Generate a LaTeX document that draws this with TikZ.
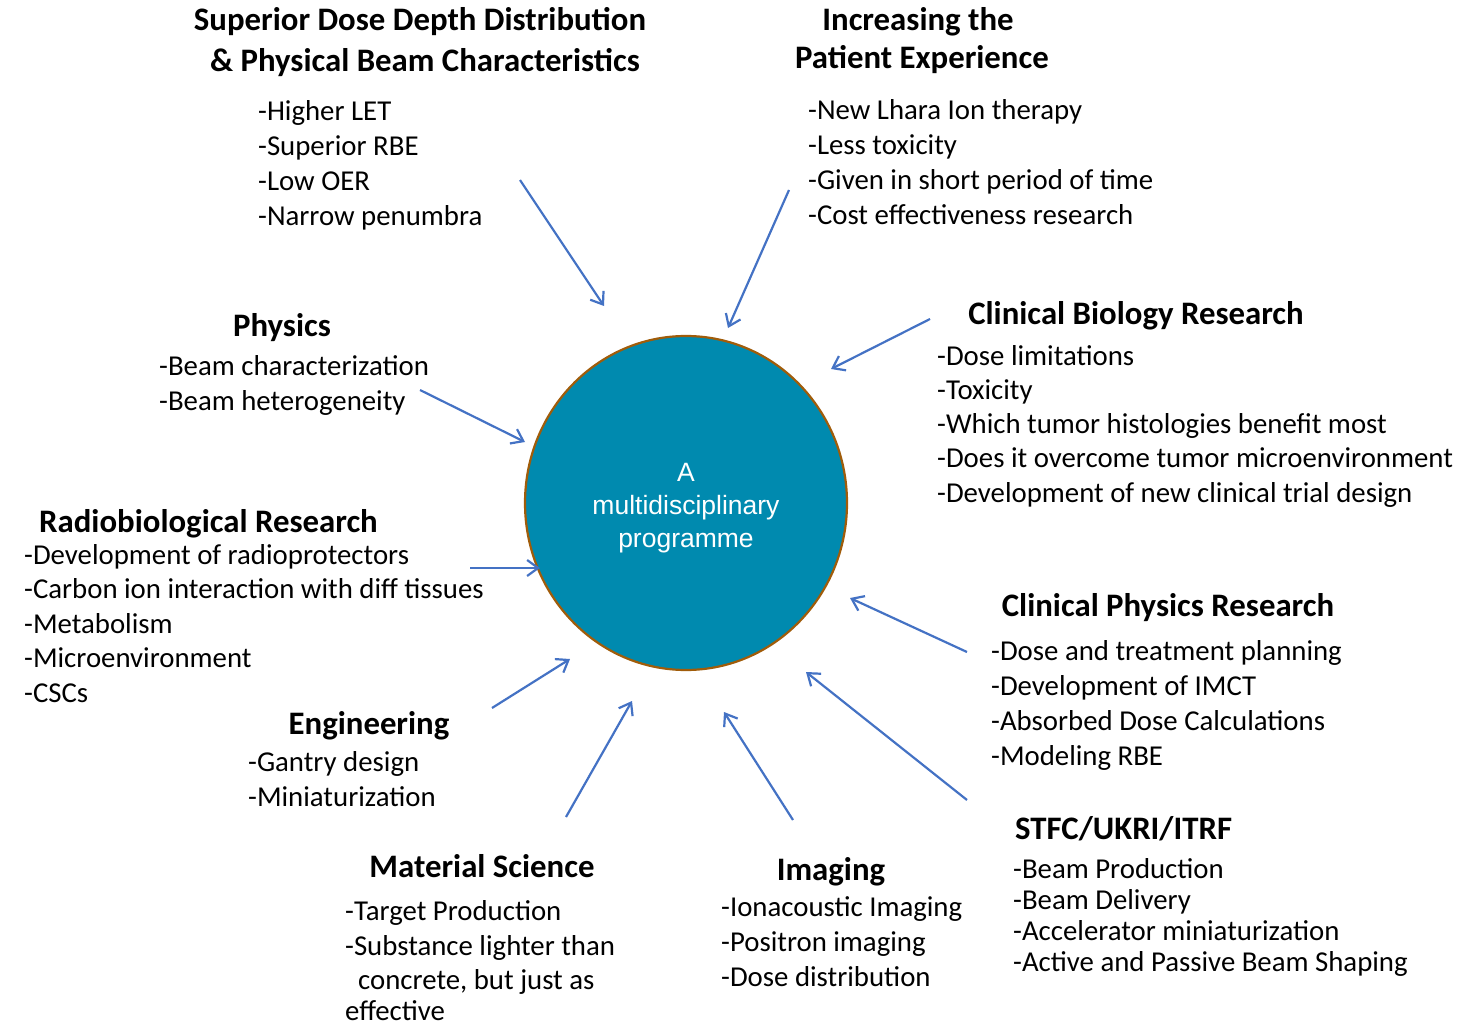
\documentclass[tikz,border=0pt]{standalone}
\usepackage{fontspec}
\setmainfont{Carlito}
\newfontfamily\arialfont{Liberation Sans}
\usetikzlibrary{arrows.meta,shapes.geometric}
\definecolor{progfill}{RGB}{0,138,175}
\definecolor{progedge}{RGB}{160,92,10}
\definecolor{feedblue}{RGB}{68,114,196}

\begin{document}
\begin{tikzpicture}[x=1pt,y=-1pt,
    head/.style={font=\bfseries\fontsize{32.8}{40}\selectfont, anchor=base, inner sep=0pt},
    item/.style={font=\fontsize{28.8}{35}\selectfont, anchor=base west, inner sep=0pt},
    feed/.style={draw=feedblue, line width=2.2pt, -{Straight Barb[length=11pt,width=16pt]}},
    prog/.style={ellipse, fill=progfill, draw=progedge, line width=2.2pt,
        minimum width=322pt, minimum height=334pt, inner sep=0pt},
    progtext/.style={align=center, text=white, inner sep=0pt,
        font=\arialfont\fontsize{26.5}{33}\selectfont}]

    \useasboundingbox (0,0) rectangle (1481,1025);

    % Central programme circle
    \node[prog] (prog) at (686,503) {};
    \node[progtext] (progtext) at (686,508) {A\\multidisciplinary\\programme};

    % Dose depth / beam characteristics
    \node[head] (dose1) at (420,31) {Superior Dose Depth Distribution};
    \node[head] (dose2) at (425,71) {\& Physical Beam Characteristics};
    \foreach \t [count=\i from 0] in {-Higher LET, -Superior RBE, -Low OER, -Narrow penumbra}
        \node[item] (dose-\i) at (258,120+35*\i) {\t};

    % Patient experience
    \node[head] (pat1) at (918,31) {Increasing the};
    \node[head] (pat2) at (922,69) {Patient Experience};
    \foreach \t [count=\i from 0] in {-New Lhara Ion therapy, -Less toxicity, -Given in short period of time, -Cost effectiveness research}
        \node[item] (pat-\i) at (808,119+35*\i) {\t};

    % Clinical biology
    \node[head] (cbio) at (1136,324) {Clinical Biology Research};
    \foreach \t [count=\i from 0] in {-Dose limitations, -Toxicity, -Which tumor histologies benefit most, -Does it overcome tumor microenvironment, -Development of new clinical trial design}
        \node[item] (cbio-\i) at (937,365+34.25*\i) {\t};

    % Physics
    \node[head] (phys) at (282,336) {Physics};
    \foreach \t [count=\i from 0] in {-Beam characterization, -Beam heterogeneity}
        \node[item] (phys-\i) at (159,375+35*\i) {\t};

    % Radiobiology
    \node[head, anchor=base west] (rbio) at (39,532) {Radiobiological Research};
    \foreach \t [count=\i from 0] in {-Development of radioprotectors, -Carbon ion interaction with diff tissues, -Metabolism, -Microenvironment, -CSCs}
        \node[item] (rbio-\i) at (24,564+34.5*\i) {\t};

    % Clinical physics
    \node[head] (cphys) at (1168,616) {Clinical Physics Research};
    \foreach \t [count=\i from 0] in {-Dose and treatment planning, -Development of IMCT, -Absorbed Dose Calculations, -Modeling RBE}
        \node[item] (cphys-\i) at (991,660+35*\i) {\t};

    % Engineering
    \node[head] (eng) at (369,734) {Engineering};
    \foreach \t [count=\i from 0] in {-Gantry design, -Miniaturization}
        \node[item] (eng-\i) at (248,771+35*\i) {\t};

    % STFC
    \node[head, anchor=base west] (stfc) at (1015,839) {STFC/UKRI/ITRF};
    \foreach \t [count=\i from 0] in {-Beam Production, -Beam Delivery, -Accelerator miniaturization, -Active and Passive Beam Shaping}
        \node[item] (stfc-\i) at (1013,878+31.3*\i) {\t};

    % Material science
    \node[head] (mat) at (482,877) {Material Science};
    \node[item] (mat-0) at (345,920) {-Target Production};
    \node[item] (mat-1) at (345,955) {-Substance lighter than};
    \node[item] (mat-2) at (358,989) {concrete, but just as};
    \node[item] (mat-3) at (345,1020) {effective};

    % Imaging
    \node[head] (img) at (831,880) {Imaging};
    \foreach \t [count=\i from 0] in {-Ionacoustic Imaging, -Positron imaging, -Dose distribution}
        \node[item] (img-\i) at (721,916+35*\i) {\t};

    % Arrow end points
    \coordinate (dose-from) at (520,180);   \coordinate (dose-to) at (604,306);
    \coordinate (pat-from) at (789,190);    \coordinate (pat-to) at (728,328);
    \coordinate (cbio-from) at (930,319);   \coordinate (cbio-to) at (831,369);
    \coordinate (phys-from) at (420,390);   \coordinate (phys-to) at (525,442);
    \coordinate (rbio-from) at (470,568);   \coordinate (rbio-to) at (540,568);
    \coordinate (eng-from) at (492,708);    \coordinate (eng-to) at (570,659);
    \coordinate (mat-from) at (566,817);    \coordinate (mat-to) at (632,701);
    \coordinate (img-from) at (793,820);    \coordinate (img-to) at (724,712);
    \coordinate (stfc-from) at (967,800);   \coordinate (stfc-to) at (806,672);
    \coordinate (cphys-from) at (967,652);  \coordinate (cphys-to) at (850,598);

    % Arrows pointing into the programme
    \foreach \n in {dose, pat, cbio, phys, rbio, eng, mat, img, stfc, cphys}
        \draw[feed] (\n-from) -- (\n-to);
\end{tikzpicture}
\end{document}
